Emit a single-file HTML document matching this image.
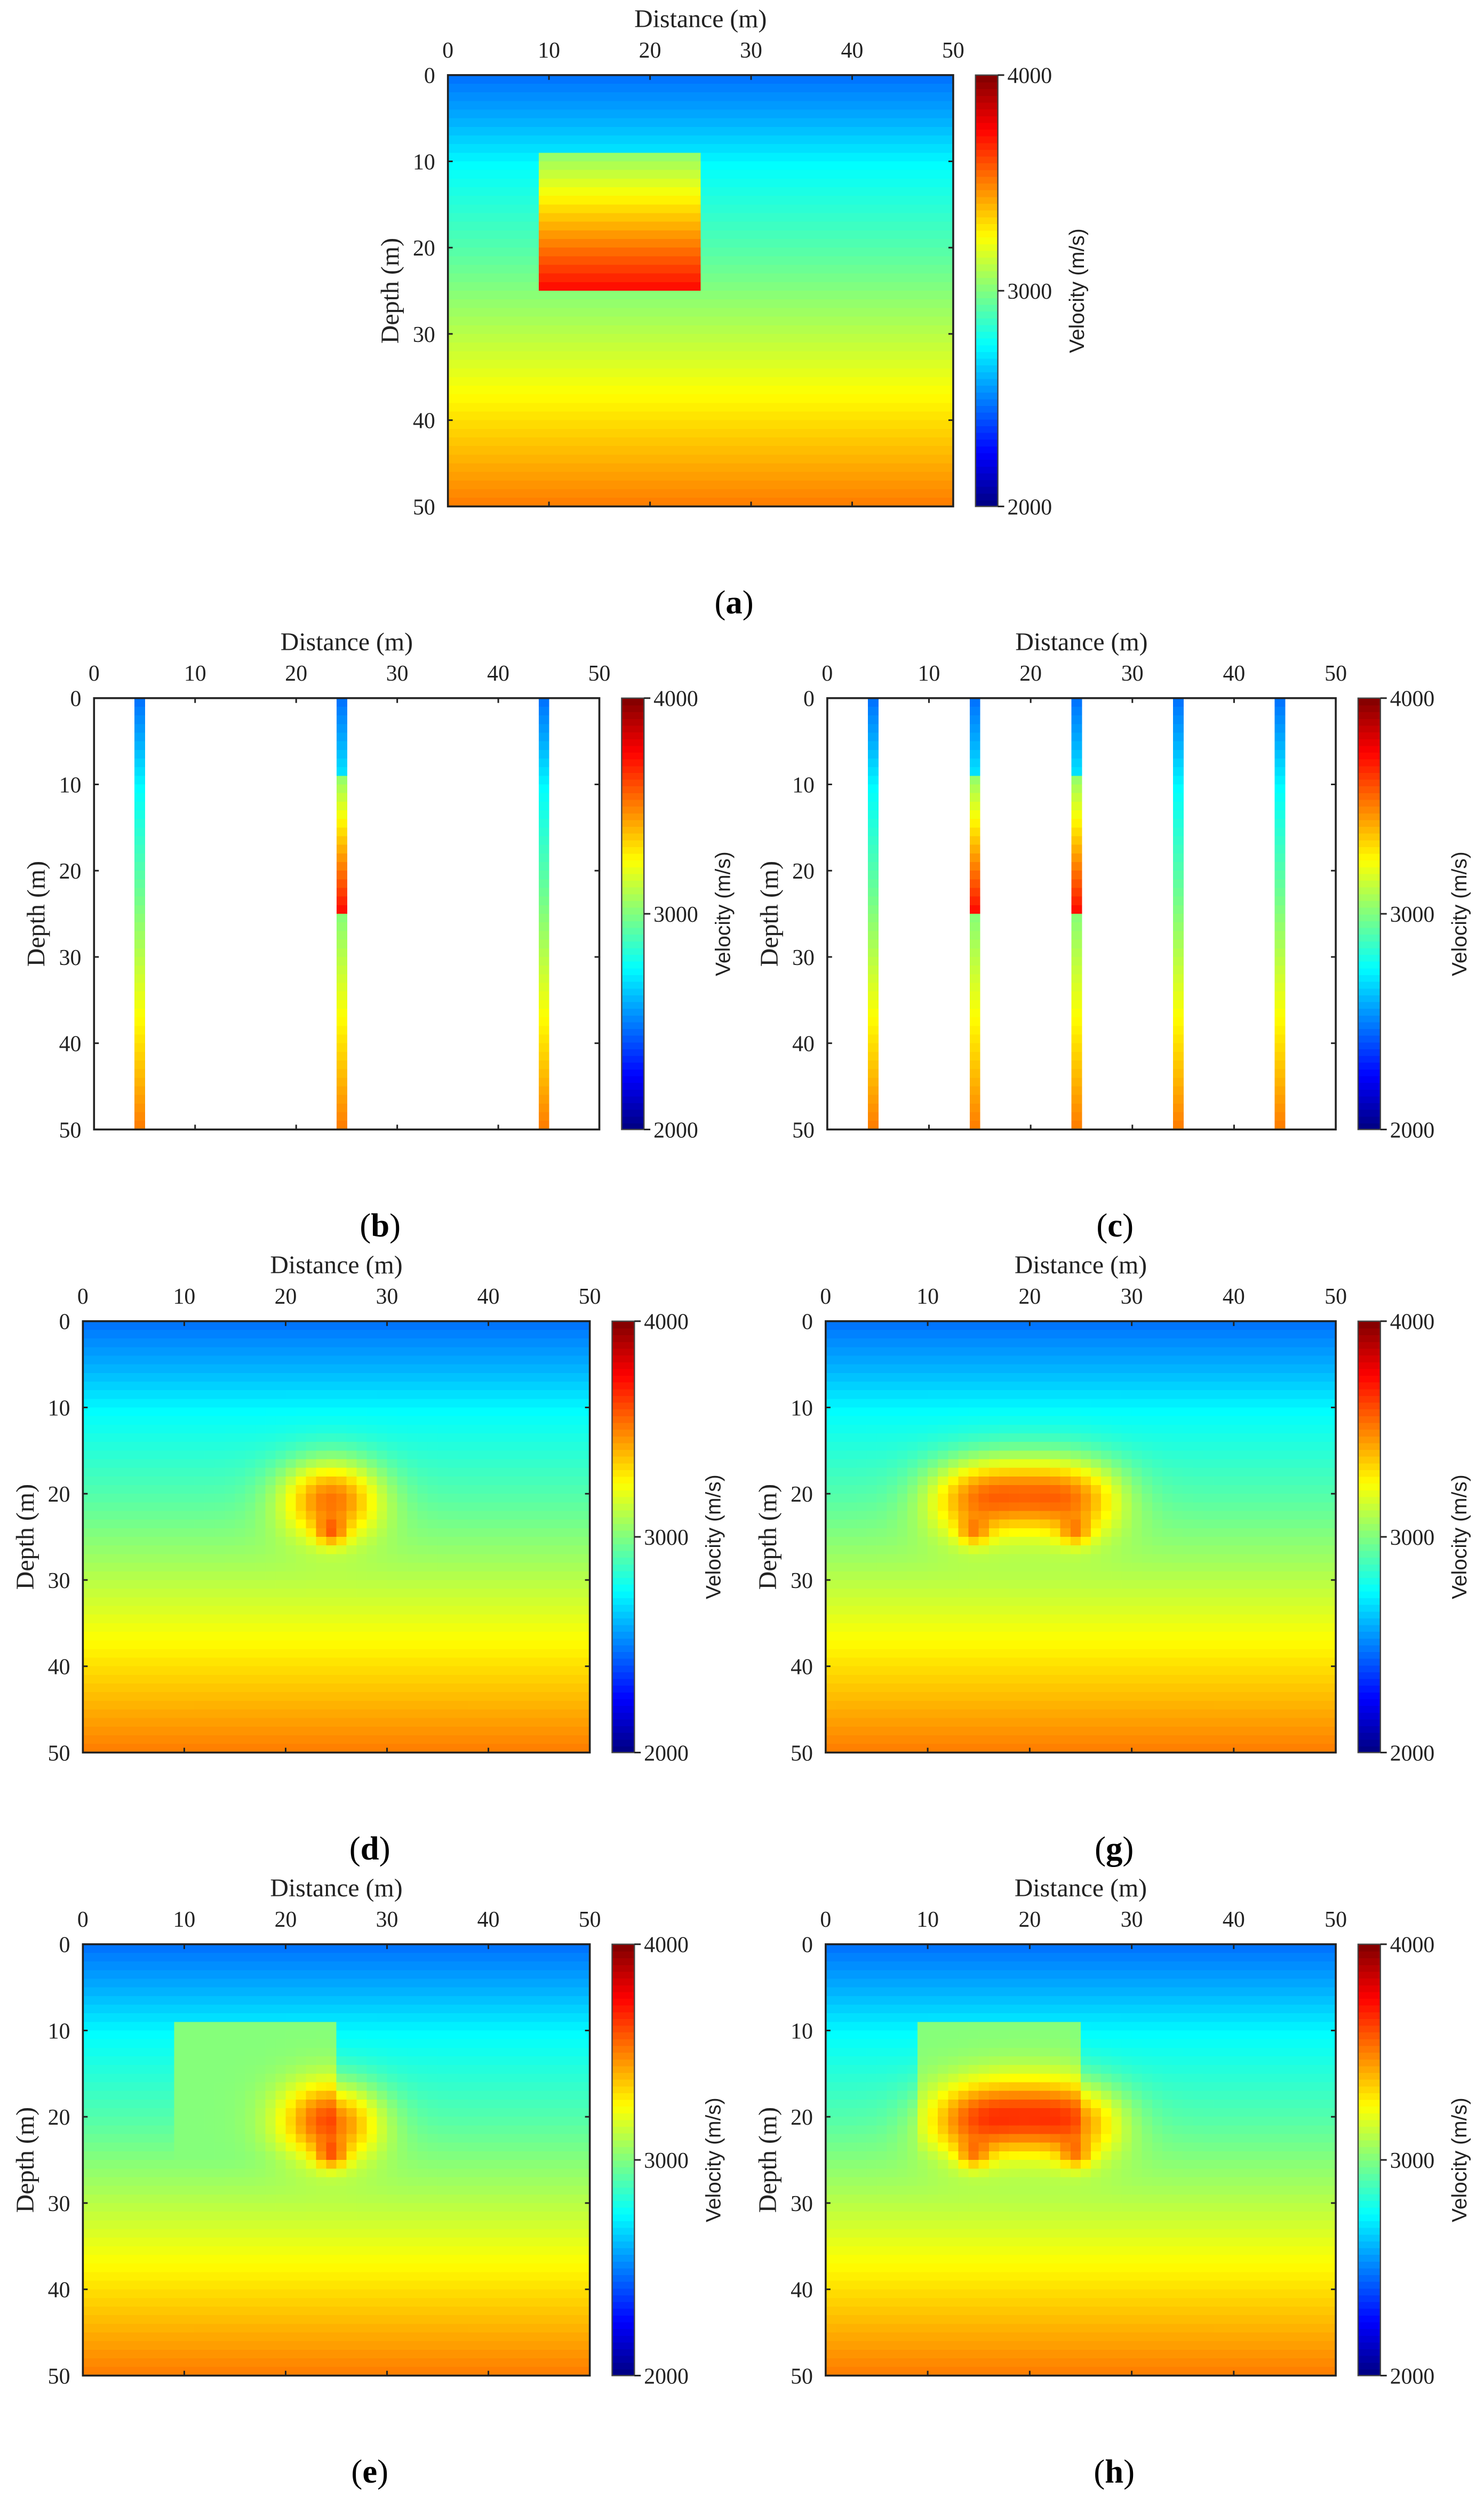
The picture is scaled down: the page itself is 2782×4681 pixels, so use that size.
<!DOCTYPE html>
<html><head><meta charset="utf-8">
<style>
html,body{margin:0;padding:0;background:#fff;}
svg{display:block;}
.tk{font-family:"Liberation Serif",serif;font-size:14px;fill:#222;}
.ttl{font-family:"Liberation Serif",serif;font-size:16px;fill:#222;}
.vl{font-family:"Liberation Sans",sans-serif;font-size:13px;fill:#222;}
.pl{font-family:"Liberation Serif",serif;font-size:21px;fill:#000;}
</style></head>
<body>
<svg id="fig" xmlns="http://www.w3.org/2000/svg" width="2782" height="4681" viewBox="0 0 931 1563" preserveAspectRatio="none"></svg>
<script>
// ---- data ----
const depthKnots = [0, 5, 10, 20, 27, 37, 50];
const bgVel = [2480, 2600, 2750, 2920, 3060, 3260, 3520];
const blockX = [9, 25];
const blockZ = [9, 25];
const blockVelTop = 3050;
const blockVelBottom = 3720;
const boreholesB = [4, 24, 44];
const boreholesC = [4, 14, 24, 34, 44];
const anomD_x = [24, 24]; const anomD_z = [20, 24]; const anomD_amp = [600, 300];
const anomG_x = [14, 19, 24, 14, 24]; const anomG_z = [20, 19, 20, 24, 24]; const anomG_amp = [480, 300, 480, 250, 250];
const blockInvBase = 3010;
const xTicks = [0, 10, 20, 30, 40, 50];
const zTicks = [0, 10, 20, 30, 40, 50];
const cbTicks = [2000, 3000, 4000];
const vmin = 2000, vmax = 4000;

const NS = "http://www.w3.org/2000/svg";
const svg = document.getElementById('fig');
function mk(tag, attrs, parent){const e=document.createElementNS(NS,tag);for(const k in attrs)e.setAttribute(k,attrs[k]);(parent||svg).appendChild(e);return e;}

function jet(t){
  t=Math.max(0,Math.min(1,t));
  const r=Math.max(0,Math.min(1,1.5-Math.abs(4*t-3)));
  const g=Math.max(0,Math.min(1,1.5-Math.abs(4*t-2)));
  const b=Math.max(0,Math.min(1,1.5-Math.abs(4*t-1)));
  return `rgb(${Math.round(r*255)},${Math.round(g*255)},${Math.round(b*255)})`;
}
function bg(z){
  for(let i=0;i<depthKnots.length-1;i++){
    if(z<=depthKnots[i+1]){const f=(z-depthKnots[i])/(depthKnots[i+1]-depthKnots[i]);return bgVel[i]+f*(bgVel[i+1]-bgVel[i]);}
  }
  return bgVel[bgVel.length-1];
}
function inBlock(x,z){return x>=blockX[0]&&x<blockX[1]&&z>=blockZ[0]&&z<blockZ[1];}
function trueModel(x,z){
  if(inBlock(x,z)) return blockVelTop+(z-blockZ[0])/(blockZ[1]-blockZ[0]-1)*(blockVelBottom-blockVelTop);
  return bg(z);
}
function anom(x,z,ax,az,aa){
  let s=0;
  for(let i=0;i<ax.length;i++){
    const sxg = i>=ax.length-2 && aa[i]<=300 ? 1.5 : 5;
    const szg = i>=ax.length-2 && aa[i]<=300 ? 1.5 : 4.5;
    const dx=(x-ax[i])/sxg,dz=(z-az[i])/szg;s+=aa[i]*Math.exp(-(dx*dx+dz*dz));
  }
  return s;
}
function invModel(x,z,ax,az,aa,withBlock){
  const base=(withBlock&&inBlock(x,z))?blockInvBase:bg(z);
  return Math.min(3850,base+anom(x,z,ax,az,aa));
}

const panels = [
  {id:'a',x:281,y:47,w:317,h:270,f:(x,z)=>trueModel(x,z)},
  {id:'b',x:59,y:437,w:317,h:270,f:(x,z)=>boreholesB.includes(x)?trueModel(x,z):null},
  {id:'c',x:519,y:437,w:319,h:270,f:(x,z)=>boreholesC.includes(x)?trueModel(x,z):null},
  {id:'d',x:52,y:827,w:318,h:270,f:(x,z)=>invModel(x,z,anomD_x,anomD_z,anomD_amp,false)},
  {id:'g',x:518,y:827,w:320,h:270,f:(x,z)=>invModel(x,z,anomG_x,anomG_z,anomG_amp,false)},
  {id:'e',x:52,y:1217,w:318,h:270,f:(x,z)=>invModel(x,z,anomD_x,anomD_z,anomD_amp,true)},
  {id:'h',x:518,y:1217,w:320,h:270,f:(x,z)=>invModel(x,z,anomG_x,anomG_z,anomG_amp,true)}
];

panels.forEach(p=>{
  const g=mk('g',{});
  
  
  const sx=v=>p.x+v/50*p.w, sz=v=>p.y+v/50*p.h;
  const cells=mk('g',{'shape-rendering':'crispEdges'},g);
  
  
  for(let xi=0;xi<50;xi++)for(let zi=0;zi<50;zi++){
    const v=p.f(xi,zi); if(v===null) continue;
    const r=mk('rect',{x:sx(xi),y:sz(zi),width:sx(xi+1)-sx(xi)+0.3,height:sz(zi+1)-sz(zi)+0.3,fill:jet((v-vmin)/(vmax-vmin))},cells);
    
    
  }
  const fr=mk('rect',{x:p.x,y:p.y,width:p.w,height:p.h,fill:'none',stroke:'#222','stroke-width':1.2},g);
  
  
  xTicks.forEach(t=>{
    mk('line',{x1:sx(t),x2:sx(t),y1:p.y,y2:p.y+3,stroke:'#222'},g);
    mk('line',{x1:sx(t),x2:sx(t),y1:p.y+p.h,y2:p.y+p.h-3,stroke:'#222'},g);
    const tx=mk('text',{x:sx(t),y:p.y-11,'text-anchor':'middle',class:'tk'},g);tx.textContent=t;
    
    
  });
  zTicks.forEach(t=>{
    mk('line',{x1:p.x,x2:p.x+3,y1:sz(t),y2:sz(t),stroke:'#222'},g);
    mk('line',{x1:p.x+p.w,x2:p.x+p.w-3,y1:sz(t),y2:sz(t),stroke:'#222'},g);
    const tx=mk('text',{x:p.x-8,y:sz(t)+5,'text-anchor':'end',class:'tk'},g);tx.textContent=t;
    
    
  });
  const xt=mk('text',{x:p.x+p.w/2,y:p.y-30,'text-anchor':'middle',class:'ttl'},g);xt.textContent='Distance (m)';
  
  
  const yt=mk('text',{x:0,y:0,'text-anchor':'middle',class:'ttl',transform:`translate(${p.x-31},${p.y+p.h/2}) rotate(-90)`},g);yt.textContent='Depth (m)';
  
  
  const cbx=p.x+p.w+14, cbw=14;
  const cb=mk('g',{'shape-rendering':'crispEdges'},g);
  
  
  const N=64;
  for(let i=0;i<N;i++){
    mk('rect',{x:cbx,y:p.y+p.h-(i+1)*p.h/N,width:cbw,height:p.h/N+0.4,fill:jet((i+0.5)/N)},cb);
  }
  mk('rect',{x:cbx,y:p.y,width:cbw,height:p.h,fill:'none',stroke:'#444','stroke-width':0.8},g);
  cbTicks.forEach(t=>{
    const yy=p.y+p.h-(t-vmin)/(vmax-vmin)*p.h;
    mk('line',{x1:cbx+cbw,x2:cbx+cbw+4,y1:yy,y2:yy,stroke:'#222'},g);
    const tx=mk('text',{x:cbx+cbw+6,y:yy+5,class:'tk'},g);tx.textContent=t;
    
    
  });
  const vt=mk('text',{x:0,y:0,'text-anchor':'middle',class:'vl',transform:`translate(${cbx+cbw+54},${p.y+p.h/2}) rotate(-90)`},g);vt.textContent='Velocity (m/s)';
  
  
  const pl=mk('text',{x:(p.x+cbx+cbw)/2+7,y:p.y+p.h+67,'text-anchor':'middle',class:'pl'},g);
  pl.innerHTML='(<tspan font-weight="bold">'+p.id+'</tspan>)';
  
  
});
</script>
</body></html>
